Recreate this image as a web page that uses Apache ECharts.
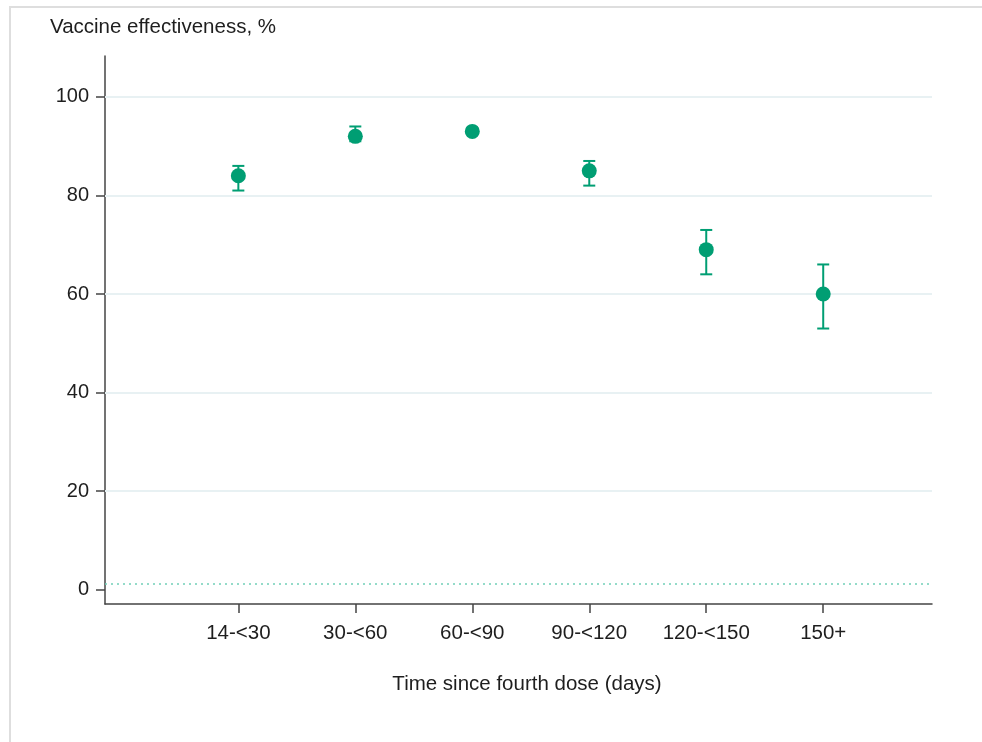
<!DOCTYPE html>
<html>
<head>
<meta charset="utf-8">
<script src="https://cdn.jsdelivr.net/npm/echarts@6/dist/echarts.min.js"></script>
<style>
html,body{margin:0;padding:0;background:#fff;overflow:hidden;}
#frame{position:absolute;left:9px;top:6px;width:1200px;height:1000px;border-top:2px solid #dedede;border-left:2px solid #dedede;}
#chart{position:absolute;left:0;top:0;width:982px;height:742px;}
</style>
</head>
<body>
<div id="frame"></div>
<div id="chart"></div>
<script>
const categories = ['14-<30', '30-<60', '60-<90', '90-<120', '120-<150', '150+'];
const positions = [1, 2, 3, 4, 5, 6];
const estimates = [84, 92, 93, 85, 69, 60];
const lowerCI = [81, 91, 92.4, 82, 64, 53];
const upperCI = [86, 94, 93.6, 87, 73, 66];
const yTicks = [0, 20, 40, 60, 80, 100];
const gridValues = [20, 40, 60, 80, 100];
const refLineValue = 1.2;

const FONT = '"Liberation Sans", Arial, sans-serif';
const GREEN = '#009E73';
const TEXT = '#1e1e1e';

const chart = echarts.init(document.getElementById('chart'), null, {renderer: 'canvas'});

const pointData = positions.map((p, i) => [p, estimates[i]]);
const ciData = positions.map((p, i) => [p, lowerCI[i], upperCI[i]]);

chart.setOption({
  animation: false,
  backgroundColor: 'transparent',
  title: {
    text: 'Vaccine effectiveness, %',
    left: 50, top: 17, padding: 0,
    textStyle: {fontFamily: FONT, fontSize: 20.5, fontWeight: 'normal', color: TEXT}
  },
  grid: {left: 105, right: 50, top: 56, bottom: 138},
  xAxis: {
    type: 'value', min: -0.14, max: 6.93,
    axisLine: {show: true, onZero: false, lineStyle: {color: '#444', width: 1.5}},
    axisTick: {show: true, length: 9, customValues: positions, lineStyle: {color: '#444', width: 1.5}},
    axisLabel: {
      customValues: positions, margin: 19,
      fontFamily: FONT, fontSize: 20.5, color: TEXT,
      formatter: v => categories[Math.round(v) - 1] || ''
    },
    splitLine: {show: false}
  },
  yAxis: {
    type: 'value', min: -2.9, max: 108.3,
    axisLine: {show: true, onZero: false, lineStyle: {color: '#444', width: 1.5}},
    axisTick: {show: true, length: 9, customValues: yTicks, lineStyle: {color: '#444', width: 1.5}},
    axisLabel: {customValues: yTicks, margin: 16, fontFamily: FONT, fontSize: 20, color: TEXT},
    splitLine: {show: false}
  },
  graphic: [{
    type: 'text', x: 527, y: 684,
    style: {text: 'Time since fourth dose (days)', font: '20.5px ' + FONT, fill: TEXT, align: 'center', verticalAlign: 'middle'}
  }],
  series: [
    {
      type: 'line', data: [], silent: true, z: 1,
      markLine: {
        z: 1,
        silent: true, symbol: 'none', label: {show: false}, animation: false,
        data: gridValues.map(v => ({yAxis: v, lineStyle: {color: '#e8f1f3', width: 2, type: 'solid'}}))
          .concat([{yAxis: refLineValue, lineStyle: {color: '#72cfb8', width: 1.5, type: [2, 4]}}])
      }
    },
    {
      type: 'custom', z: 6,
      data: ciData,
      renderItem: function (params, api) {
        const x = api.value(0);
        const lo = api.coord([x, api.value(1)]);
        const hi = api.coord([x, api.value(2)]);
        const hw = 6;
        const style = {stroke: GREEN, lineWidth: 2};
        return {
          type: 'group',
          children: [
            {type: 'line', shape: {x1: lo[0], y1: lo[1], x2: hi[0], y2: hi[1]}, style},
            {type: 'line', shape: {x1: lo[0] - hw, y1: lo[1], x2: lo[0] + hw, y2: lo[1]}, style},
            {type: 'line', shape: {x1: hi[0] - hw, y1: hi[1], x2: hi[0] + hw, y2: hi[1]}, style}
          ]
        };
      }
    },
    {
      type: 'scatter', z: 7,
      data: pointData,
      symbol: 'circle', symbolSize: 15,
      itemStyle: {color: GREEN, opacity: 1}
    }
  ]
});
</script>
</body>
</html>
